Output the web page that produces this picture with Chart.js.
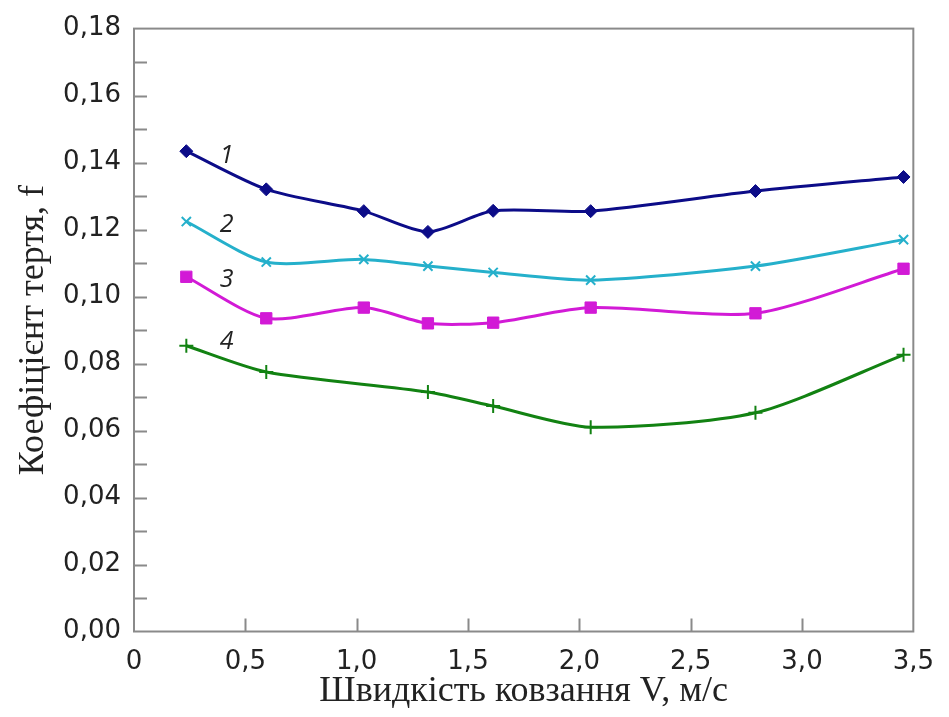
<!DOCTYPE html>
<html><head><meta charset="utf-8">
<script src="https://cdn.jsdelivr.net/npm/chart.js@4.4.1/dist/chart.umd.min.js"></script>
<style>html,body{margin:0;padding:0;background:#fff}canvas{display:block}</style>
</head><body>
<canvas id="c" width="949" height="717"></canvas>
<script>
// Sliding speed V, m/s
const speedV  = [0.235, 0.594, 1.032, 1.320, 1.613, 2.051, 2.791, 3.456];
const speedV4 = [0.235, 0.594, 1.320, 1.613, 2.051, 2.791, 3.456];
// Friction coefficient f
const friction1 = [0.1434, 0.1320, 0.1255, 0.1193, 0.1256, 0.1255, 0.1315, 0.1357];
const friction2 = [0.1224, 0.1103, 0.1111, 0.1091, 0.1072, 0.1049, 0.1091, 0.1170];
const friction3 = [0.1059, 0.0935, 0.0967, 0.0920, 0.0922, 0.0967, 0.0950, 0.1083];
const friction4 = [0.0853, 0.0775, 0.0715, 0.0673, 0.0610, 0.0653, 0.0826];
// Curve number labels (placed in data coordinates)
const curveNames  = ['1', '2', '3', '4'];
const curveNameX  = [0.416, 0.416, 0.416, 0.416];
const curveNameY  = [0.1420, 0.1213, 0.1050, 0.0866];
// Axis texts
const xTitle = 'Швидкість ковзання V, м/с';
const yTitle = 'Коефіцієнт тертя, f';

const colors = ['#0c0c88', '#25b0cb', '#d21ad6', '#128212'];
const styles = ['rectRot', 'crossRot', 'rect', 'cross'];
const radii  = [6.5, 6.5, 8, 7];

function toPoints(xs, ys){ return xs.map((x,i)=>({x:x, y:ys[i]})); }
const seriesData = [
  toPoints(speedV, friction1),
  toPoints(speedV, friction2),
  toPoints(speedV, friction3),
  toPoints(speedV4, friction4)
];

const datasets = seriesData.map((d,i)=>({
  label: curveNames[i],
  data: d,
  borderColor: colors[i],
  backgroundColor: colors[i],
  pointBackgroundColor: colors[i],
  pointBorderColor: colors[i],
  pointStyle: styles[i],
  pointRadius: radii[i],
  pointBorderWidth: (styles[i].startsWith('cross') ? 2 : 1),
  borderWidth: 3,
  tension: 0.25,
  fill: false
}));

const framePlugin = {
  id: 'frame',
  beforeDatasetsDraw(chart){
    const {ctx, chartArea:a, scales:{x, y}} = chart;
    ctx.save();
    ctx.strokeStyle = '#8a8a8a';
    ctx.lineWidth = 2;
    ctx.beginPath();
    y.ticks.forEach(t=>{
      const py = Math.round(y.getPixelForValue(t.value)) + 0.5;
      if (t.value <= 0 || t.value >= 0.18 - 1e-9) return;
      ctx.moveTo(a.left, py); ctx.lineTo(a.left + 13, py);
    });
    x.ticks.forEach(t=>{
      if (t.value <= 0 || t.value >= 3.5 - 1e-9) return;
      const px = Math.round(x.getPixelForValue(t.value)) + 0.5;
      ctx.moveTo(px, a.bottom); ctx.lineTo(px, a.bottom - 13);
    });
    ctx.stroke();
    ctx.strokeRect(a.left, a.top, a.right - a.left, a.bottom - a.top);
    ctx.restore();
  },
  afterDatasetsDraw(chart){
    const {ctx, scales:{x, y}} = chart;
    ctx.save();
    ctx.fillStyle = '#222';
    ctx.font = 'italic 25px "Open Sans", "DejaVu Sans", sans-serif';
    ctx.textAlign = 'center';
    ctx.textBaseline = 'middle';
    curveNames.forEach((n,i)=>{
      ctx.fillText(n, x.getPixelForValue(curveNameX[i]), y.getPixelForValue(curveNameY[i]));
    });
    ctx.restore();
  }
};

new Chart(document.getElementById('c'), {
  type: 'line',
  data: { datasets },
  options: {
    responsive: false,
    animation: false,
    devicePixelRatio: 1,
    layout: { padding: { left: 0, top: 25, right: 25, bottom: 0 } },
    plugins: { legend: { display: false }, tooltip: { enabled: false } },
    scales: {
      x: {
        type: 'linear', min: 0, max: 3.5,
        grid: { display: false, drawTicks: false },
        border: { display: false },
        ticks: {
          stepSize: 0.5, padding: 15, color: '#222', maxRotation: 0, autoSkip: false,
          font: { family: '"DejaVu Sans", sans-serif', size: 26 },
          callback: v => v === 0 ? '0' : v.toFixed(1).replace('.', ',')
        },
        title: {
          display: true, text: xTitle, color: '#222',
          font: { family: '"Liberation Serif", "DejaVu Serif", serif', size: 36 },
          padding: { top: 0, bottom: 4 }
        },
        afterFit: s => { s.height = 85.5; }
      },
      y: {
        type: 'linear', min: 0, max: 0.18,
        grid: { display: false, drawTicks: false },
        border: { display: false },
        ticks: {
          stepSize: 0.01, padding: 13, color: '#222', autoSkip: false, maxTicksLimit: 100,
          font: { family: '"DejaVu Sans", sans-serif', size: 26 },
          callback: v => (Math.round(v * 100) % 2 === 0) ? v.toFixed(2).replace('.', ',') : ''
        },
        title: {
          display: true, text: yTitle, color: '#222',
          font: { family: '"Liberation Serif", "DejaVu Serif", serif', size: 36 },
          padding: { top: 12, bottom: 0 }
        },
        afterFit: s => { s.width = 134; }
      }
    }
  },
  plugins: [framePlugin]
});
</script>
</body></html>
